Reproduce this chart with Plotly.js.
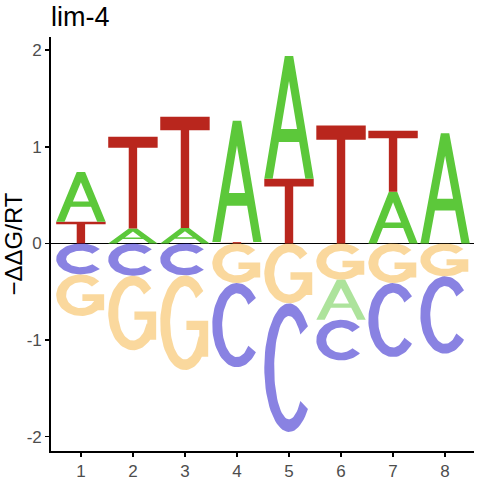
<!DOCTYPE html>
<html><head><meta charset="utf-8">
<script src="https://cdn.plot.ly/plotly-3.0.1.min.js"></script>
<style>html,body{margin:0;padding:0;background:#fff}</style>
</head><body><div id="chart" style="width:480px;height:480px"></div>
<script>
// ---- data ----
const positions = [1, 2, 3, 4, 5, 6, 7, 8];
const tickLabelsX = ['1', '2', '3', '4', '5', '6', '7', '8'];
const valA = [0.515, 0.155, 0.16, 1.255, 1.27, -0.415, 0.535, 1.14];
const valC = [-0.32, -0.335, -0.33, -0.87, -1.33, -0.42, -0.765, -0.80];
const valG = [-0.43, -0.77, -0.98, -0.41, -0.62, -0.375, -0.41, -0.34];
const valT = [0.225, 0.95, 1.15, 0.015, 0.67, 1.22, 0.63, 0.0];
const yTickVals = [-2, -1, 0, 1, 2];
const yTickLabels = ['-2', '-1', '0', '1', '2'];
const chartTitle = 'lim-4';
const yTitle = '\u2212\u0394\u0394G/RT';

// ---- styles ----
const letterNames = ['A', 'C', 'G', 'T'];
const letterValues = {A: valA, C: valC, G: valG, T: valT};
const baseRGB = {A: [92, 200, 58], C: [20, 5, 197], G: [246, 178, 60], T: [185, 38, 29]};
const COL_W = 0.95;
const PX_PER_UNIT = 96.5;

function colorFor(L, v) {
  const c = baseRGB[L];
  const a = v < 0 ? 0.5 : 1;
  return `rgba(${c[0]},${c[1]},${c[2]},${a})`;
}

// ---- glyph outlines in a unit box (y up), counter-clockwise ----
function arc(cx, cy, rx, ry, a0, a1, n) {
  const pts = [];
  for (let i = 0; i <= n; i++) {
    const t = (a0 + (a1 - a0) * i / n) * Math.PI / 180;
    pts.push([cx + rx * Math.cos(t), cy + ry * Math.sin(t)]);
  }
  return pts;
}
function rect(x0, y0, x1, y1) { return [[x0, y0], [x1, y0], [x1, y1], [x0, y1]]; }
const HSTROKE = 0.2;
function vStroke(h) { return Math.min(0.4, 0.055 + (5.5 / PX_PER_UNIT) / h); }

function glyph(L, h) {
  if (L === 'T') {
    return [[[0.415, 0], [0.585, 0], [0.585, 0.88], [1, 0.88], [1, 1], [0, 1], [0, 0.88], [0.415, 0.88]]];
  }
  if (L === 'A') {
    const lw = 0.17, top = 0.415, cb0 = 0.3, cb1 = 0.405;
    const s = top;
    const apexY = (1 - 2 * lw) / (2 * s);
    return [[
      [0, 0], [lw, 0], [lw + s * cb0, cb0], [1 - lw - s * cb0, cb0], [1 - lw, 0], [1, 0],
      [1 - top, 1], [0.5, 1], [0.5, apexY],
      [1 - lw - s * cb1, cb1], [lw + s * cb1, cb1],
      [0.5, apexY], [0.5, 1], [top, 1]
    ]];
  }
  const tv = vStroke(h);
  if (L === 'C') {
    const outer = arc(0.5, 0.5, 0.5, 0.5, 40, 320, 60);
    const inner = arc(0.5, 0.5, 0.5 - HSTROKE, 0.5 - tv, 320, 40, 60);
    return [outer.concat(inner)];
  }
  // G
  const outer = arc(0.5, 0.5, 0.5, 0.5, 42, 338, 60);
  const inner = arc(0.5, 0.5, 0.5 - HSTROKE, 0.5 - tv, 338, 42, 60);
  const tb = Math.min(0.18, tv * 0.85);
  return [outer.concat(inner), rect(0.79, 0.14, 0.97, 0.52), rect(0.53, 0.52 - tb, 0.97, 0.52)];
}

// ---- build traces ----
const traces = [];
positions.forEach((p, i) => {
  const items = letterNames.map(L => ({L, v: letterValues[L][i]})).filter(d => d.v !== 0);
  const pos = items.filter(d => d.v > 0).sort((a, b) => a.v - b.v);
  const neg = items.filter(d => d.v < 0).sort((a, b) => b.v - a.v);
  let top = 0;
  pos.forEach(d => { d.y0 = top; top += d.v; });
  let bot = 0;
  neg.forEach(d => { bot += d.v; d.y0 = bot; });
  pos.concat(neg).forEach(d => {
    const h = Math.abs(d.v);
    const pieces = glyph(d.L, h);
    const xs = [], ys = [];
    pieces.forEach((poly, k) => {
      if (k > 0) { xs.push(null); ys.push(null); }
      poly.forEach(([u, w]) => { xs.push(p - COL_W / 2 + u * COL_W); ys.push(d.y0 + w * h); });
      xs.push(p - COL_W / 2 + poly[0][0] * COL_W); ys.push(d.y0 + poly[0][1] * h);
    });
    traces.push({
      type: 'scatter', mode: 'lines', x: xs, y: ys, fill: 'toself',
      fillcolor: colorFor(d.L, d.v), line: {width: 0, color: colorFor(d.L, d.v)},
      hoverinfo: 'skip', showlegend: false, name: d.L + p
    });
  });
});

const axisCommon = {
  ticks: 'outside', ticklen: 4, tickwidth: 1.4, tickcolor: '#000',
  showline: true, linecolor: '#000', linewidth: 1.8, showgrid: false,
  tickfont: {size: 17, color: '#4D4D4D', family: 'Liberation Sans, Arial, sans-serif'},
  fixedrange: true
};
const layout = {
  width: 480, height: 480,
  margin: {l: 51, r: 6, t: 37, b: 29},
  paper_bgcolor: '#fff', plot_bgcolor: '#fff',
  font: {family: 'Liberation Sans, Arial, sans-serif', color: '#000'},
  title: {text: chartTitle, font: {size: 27, color: '#000'}, x: 0, xref: 'paper', xanchor: 'left',
          y: 1 - 17 / 480, yref: 'container', yanchor: 'middle'},
  xaxis: Object.assign({}, axisCommon, {range: [0.425, 8.556], tickmode: 'array', tickvals: positions, ticktext: tickLabelsX, zeroline: false}),
  yaxis: Object.assign({}, axisCommon, {range: [-2.147, 2.136], tickmode: 'array', tickvals: yTickVals, ticktext: yTickLabels,
          zeroline: true, zerolinecolor: '#000', zerolinewidth: 1.2,
          title: {text: yTitle, font: {size: 24, color: '#000'}, standoff: 3}}),
  showlegend: false
};
Plotly.newPlot('chart', traces, layout, {displayModeBar: false, staticPlot: true});
</script>
</body></html>
